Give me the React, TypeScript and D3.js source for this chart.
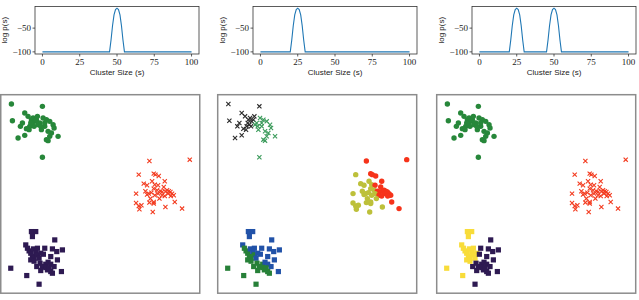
import * as d3 from 'd3';

// cluster size axis and the log p(s) curves
const sizeTicks = [0, 25, 50, 75, 100];
const logTicks = [-100, -50];
const curveOne: [number, number][] = [
  [0, -100], [45, -100], [46, -75], [47, -45], [48, -22], [49, -11], [50, -8],
  [51, -11], [52, -22], [53, -45], [54, -75], [55, -100], [100, -100],
];
const curveTwo: [number, number][] = [
  [0, -100], [20, -100], [21, -75], [22, -45], [23, -22], [24, -11], [25, -8],
  [26, -11], [27, -22], [28, -45], [29, -75], [30, -100], [100, -100],
];
const curveThree: [number, number][] = [
  [0, -100], [20, -100], [21, -75], [22, -45], [23, -22], [24, -11], [25, -8],
  [26, -11], [27, -22], [28, -45], [29, -75], [30, -100],
  [45, -100], [46, -75], [47, -45], [48, -22], [49, -11], [50, -8],
  [51, -11], [52, -22], [53, -45], [54, -75], [55, -100], [100, -100],
];

// scatter points (same points in all three panels), feature units
const topLeft: [number, number][] = [
  [32, 28], [125, 35], [35, 78], [72, 55], [82, 65], [92, 75], [97, 70], [102, 80], [95, 90],
  [87, 95], [77, 102], [85, 105], [59, 95], [52, 130], [72, 122], [107, 75], [100, 95], [90, 85],
  [127, 70], [137, 75], [147, 80], [157, 90], [117, 85], [132, 95], [122, 105], [142, 110],
  [152, 115], [172, 125], [147, 125], [137, 135], [142, 138], [125, 188], [112, 90], [132, 85],
  [160, 100], [120, 95], [110, 65], [65, 85],
];
// panel 2 split of the top-left group: 0 = black, 1 = green
const topLeftSplit = [
  0, 0, 0, 0, 0, 0, 0, 0, 0, 0, 0, 0, 0, 0, 0, 0, 0, 0,
  1, 1, 1, 1, 1, 1, 1, 1, 1, 1, 1, 1, 1, 1, 1, 1, 1, 1, 0, 0,
];

const right: [number, number][] = [
  [446, 199], [567, 195], [414, 240], [459, 237], [464, 240], [474, 244], [429, 267], [439, 272],
  [454, 260], [462, 270], [472, 272], [492, 260], [489, 277], [406, 297], [434, 290], [444, 297],
  [452, 294], [459, 282], [469, 287], [479, 290], [484, 292], [494, 290], [499, 287], [504, 290],
  [509, 292], [514, 297], [502, 297], [519, 302], [472, 297], [484, 302], [476, 312], [462, 302],
  [449, 312], [459, 322], [459, 327], [446, 324], [406, 325], [414, 334], [422, 332], [416, 344],
  [494, 337], [522, 322], [544, 342], [456, 352], [439, 300], [492, 304], [510, 304],
];
// panel 2 split of the right group: 0 = red, 1 = olive
const rightSplit = [
  0, 0, 1, 0, 0, 0, 1, 1,
  1, 1, 0, 0, 0, 1, 1, 1,
  1, 1, 1, 0, 0, 0, 0, 0,
  0, 0, 0, 0, 1, 0, 1, 1,
  1, 1, 1, 1, 1, 1, 1, 1,
  1, 0, 0, 1, 1, 0, 0,
];

const bottomLeft: [number, number][] = [
  [92, 411], [105, 411], [95, 426], [75, 451], [80, 461], [85, 469], [90, 476], [98, 463],
  [105, 471], [110, 461], [95, 486], [100, 491], [90, 496], [110, 481], [30, 521], [78, 543],
  [115, 491], [120, 476], [162, 436], [132, 461], [155, 463], [168, 471], [185, 466], [128, 479],
  [150, 486], [170, 496], [118, 506], [125, 516], [135, 509], [142, 503], [150, 509], [160, 516],
  [140, 526], [150, 531], [155, 536], [182, 531], [115, 569], [135, 519], [108, 516], [100, 500],
  [145, 520], [120, 528],
];
// panel 2 split: 0 = blue, 1 = green; panel 3 split: 0 = yellow, 1 = purple
const bottomLeftSplitTwo = [
  0, 0, 0, 0, 1, 1, 1, 0,
  0, 0, 1, 1, 1, 1, 1, 1,
  0, 0, 0, 0, 0, 0, 0, 0,
  0, 0, 1, 1, 1, 0, 0, 0,
  1, 1, 1, 0, 1, 1, 1, 1,
  1, 1,
];
const bottomLeftSplitThree = [
  0, 0, 0, 0, 0, 0, 0, 0,
  0, 0, 0, 0, 0, 0, 0, 0,
  0, 0, 1, 1, 1, 1, 1, 1,
  1, 1, 1, 1, 1, 1, 1, 1,
  1, 1, 1, 1, 1, 1, 1, 0,
  1, 1,
];

type Marker = 'circle' | 'square' | 'x';

const topBoxes = [35, 253, 472];
const scatterBoxes = [0.75, 217.7, 436.7];
const curves = [curveOne, curveTwo, curveThree];

function MarkerShape({ kind, cx, cy, color }: { kind: Marker; cx: number; cy: number; color: string }) {
  if (kind === 'circle') return <circle cx={cx} cy={cy} r={2.7} fill={color} />;
  if (kind === 'square') return <rect x={cx - 2.6} y={cy - 2.6} width={5.2} height={5.2} fill={color} />;
  const h = 2.1;
  return (
    <path
      d={`M${cx - h},${cy - h}L${cx + h},${cy + h}M${cx - h},${cy + h}L${cx + h},${cy - h}`}
      stroke={color}
      strokeWidth={1.1}
      fill="none"
    />
  );
}

function TopPanel({ left, data }: { left: number; data: [number, number][] }) {
  const width = 164;
  const top = 6.5;
  const bottom = 54;
  const x = d3.scaleLinear().domain([-5, 105]).range([left, left + width]);
  const y = d3.scaleLinear().domain([-104.5, -4.5]).range([bottom, top]);
  const line = d3.line<[number, number]>().x((d) => x(d[0])).y((d) => y(d[1]));
  const tickFont = "'Liberation Serif', 'DejaVu Serif', serif";
  return (
    <g>
      <path d={line(data) || ''} fill="none" stroke="#1f77b4" strokeWidth={1.1} />
      <rect x={left} y={top} width={width} height={bottom - top} fill="none" stroke="#333" strokeWidth={0.8} />
      {sizeTicks.map((t) => (
        <g key={t}>
          <line x1={x(t)} x2={x(t)} y1={bottom} y2={bottom + 2.5} stroke="#333" strokeWidth={0.8} />
          <text x={x(t)} y={62} textAnchor="middle" dominantBaseline="central" fontSize={9} fontFamily={tickFont} fill="#222">
            {t}
          </text>
        </g>
      ))}
      {logTicks.map((t) => (
        <g key={t}>
          <line x1={left - 2.5} x2={left} y1={y(t)} y2={y(t)} stroke="#333" strokeWidth={0.8} />
          <text x={left - 4} y={y(t)} textAnchor="end" dominantBaseline="central" fontSize={9} fontFamily={tickFont} fill="#222">
            {'\u2212' + Math.abs(t)}
          </text>
        </g>
      ))}
      <text x={left + width / 2} y={72} textAnchor="middle" dominantBaseline="central" fontSize={8} fontFamily="'Liberation Sans', sans-serif" fill="#222">
        Cluster Size (s)
      </text>
      <text
        transform={`translate(${left - 31},${(top + bottom) / 2}) rotate(-90)`}
        textAnchor="middle"
        dominantBaseline="central"
        fontSize={8}
        fontFamily="'Liberation Sans', sans-serif"
        fill="#222"
      >
        log p(s)
      </text>
    </g>
  );
}

type Style = { kind: Marker; color: string };

function ScatterPanel({
  left,
  tl,
  r,
  bl,
}: {
  left: number;
  tl: (i: number) => Style;
  r: (i: number) => Style;
  bl: (i: number) => Style;
}) {
  const top = 94.7;
  const size = 199;
  const height = 198.5;
  const x = d3.scaleLinear().domain([0, 597]).range([left, left + size]);
  const y = d3.scaleLinear().domain([0, 596]).range([top, top + height]);
  const groups: [[number, number][], (i: number) => Style][] = [
    [topLeft, tl],
    [right, r],
    [bottomLeft, bl],
  ];
  return (
    <g>
      {groups.map(([pts, style], gi) =>
        pts.map((p, i) => {
          const s = style(i);
          return <MarkerShape key={gi + '-' + i} kind={s.kind} cx={x(p[0])} cy={y(p[1])} color={s.color} />;
        })
      )}
      <rect x={left} y={top} width={size} height={height} fill="none" stroke="#8c8c8c" strokeWidth={1.5} />
    </g>
  );
}

export default function App() {
  const green = '#27873a';
  const red = '#f33b1f';
  const purple = '#2e1a52';
  return (
    <svg width={639} height={300} style={{ position: 'absolute', left: 0, top: 0, background: '#fff' }}>
      {topBoxes.map((left, i) => (
        <TopPanel key={i} left={left} data={curves[i]} />
      ))}
      <ScatterPanel
        left={scatterBoxes[0]}
        tl={() => ({ kind: 'circle', color: green })}
        r={() => ({ kind: 'x', color: red })}
        bl={() => ({ kind: 'square', color: purple })}
      />
      <ScatterPanel
        left={scatterBoxes[1]}
        tl={(i) => ({ kind: 'x', color: topLeftSplit[i] ? '#3a9a5a' : '#2b2b2b' })}
        r={(i) => ({ kind: 'circle', color: rightSplit[i] ? '#bdc03a' : '#f6331a' })}
        bl={(i) => ({ kind: 'square', color: bottomLeftSplitTwo[i] ? '#278038' : '#2152a8' })}
      />
      <ScatterPanel
        left={scatterBoxes[2]}
        tl={() => ({ kind: 'circle', color: green })}
        r={() => ({ kind: 'x', color: red })}
        bl={(i) => ({ kind: 'square', color: bottomLeftSplitThree[i] ? purple : '#f8dc3a' })}
      />
    </svg>
  );
}
